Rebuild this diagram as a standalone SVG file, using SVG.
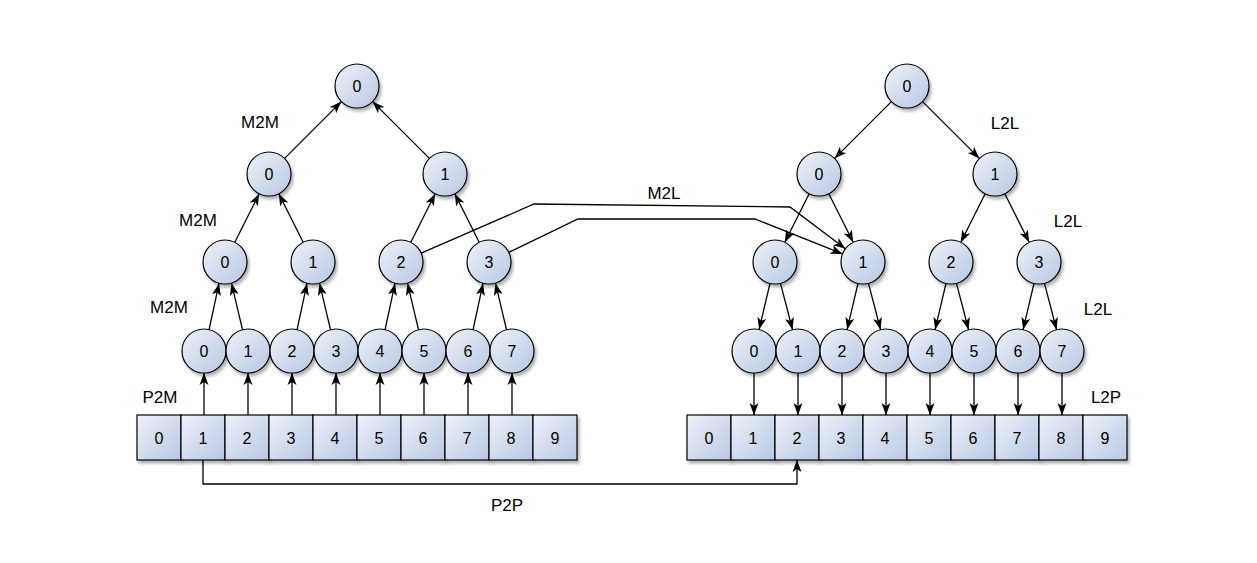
<svg xmlns="http://www.w3.org/2000/svg" width="1257" height="563" viewBox="0 0 1257 563">
  <defs>
    <linearGradient id="fillGrad" x1="0" y1="0" x2="1" y2="1">
      <stop offset="0" stop-color="#eef2f9"/>
      <stop offset="1" stop-color="#b6c8e2"/>
    </linearGradient>
    <filter id="shadow" x="-30%" y="-30%" width="160%" height="160%">
      <feDropShadow dx="2" dy="3" stdDeviation="1.5" flood-color="#000" flood-opacity="0.3"/>
    </filter>
    <marker id="arrow" viewBox="0 0 12 10" refX="12" refY="5" markerWidth="12" markerHeight="10" markerUnits="userSpaceOnUse" orient="auto">
      <path d="M0,0.5 L12,5 L0,9.5 L3,5 z" fill="#000"/>
    </marker>
    <style>
      .node circle, .node rect { fill: url(#fillGrad); stroke: #000; stroke-width: 1.2; filter: url(#shadow); }
      .node text, .label { font-family: "Liberation Sans", Arial, Helvetica, sans-serif; fill: #000; text-anchor: middle; dominant-baseline: central; }
      .node text { font-size: 16px; }
      .label { font-size: 17px; }
      .edge { fill: none; stroke: #000; stroke-width: 1.3; marker-end: url(#arrow); }
    </style>
  </defs>

  <rect x="0" y="0" width="1257" height="563" fill="#fff"/>

  <!-- connectors -->
  <g id="connectors">
    <!-- M2M: level 1 to root -->
    <line class="edge" x1="284.6" y1="158.4" x2="341.4" y2="101.6"/>
    <line class="edge" x1="429.4" y1="158.4" x2="372.6" y2="101.6"/>
    <!-- M2M: level 2 to level 1 -->
    <line class="edge" x1="234.8" y1="242.3" x2="259.2" y2="193.7"/>
    <line class="edge" x1="303.2" y1="242.3" x2="278.8" y2="193.7"/>
    <line class="edge" x1="410.8" y1="242.3" x2="435.2" y2="193.7"/>
    <line class="edge" x1="479.2" y1="242.3" x2="454.8" y2="193.7"/>
    <!-- M2M: leaves to level 2 -->
    <line class="edge" x1="209.1" y1="329.6" x2="219" y2="283.4"/>
    <line class="edge" x1="242.5" y1="329.7" x2="231.5" y2="283.3"/>
    <line class="edge" x1="297.1" y1="329.6" x2="307" y2="283.4"/>
    <line class="edge" x1="330.5" y1="329.7" x2="319.5" y2="283.3"/>
    <line class="edge" x1="385.1" y1="329.6" x2="395" y2="283.4"/>
    <line class="edge" x1="418.5" y1="329.7" x2="407.5" y2="283.3"/>
    <line class="edge" x1="473.1" y1="329.6" x2="483" y2="283.4"/>
    <line class="edge" x1="506.5" y1="329.7" x2="495.5" y2="283.3"/>
    <!-- P2M -->
    <line class="edge" x1="204" y1="415" x2="204" y2="373"/>
    <line class="edge" x1="248" y1="415" x2="248" y2="373"/>
    <line class="edge" x1="292" y1="415" x2="292" y2="373"/>
    <line class="edge" x1="336" y1="415" x2="336" y2="373"/>
    <line class="edge" x1="380" y1="415" x2="380" y2="373"/>
    <line class="edge" x1="424" y1="415" x2="424" y2="373"/>
    <line class="edge" x1="468" y1="415" x2="468" y2="373"/>
    <line class="edge" x1="512" y1="415" x2="512" y2="373"/>

    <!-- L2L: root to level 1 -->
    <line class="edge" x1="891.4" y1="101.6" x2="834.6" y2="158.4"/>
    <line class="edge" x1="922.6" y1="101.6" x2="979.4" y2="158.4"/>
    <!-- L2L: level 1 to level 2 -->
    <line class="edge" x1="809.2" y1="193.7" x2="784.8" y2="242.3"/>
    <line class="edge" x1="828.8" y1="193.7" x2="853.2" y2="242.3"/>
    <line class="edge" x1="985.2" y1="193.7" x2="960.8" y2="242.3"/>
    <line class="edge" x1="1004.8" y1="193.7" x2="1029.2" y2="242.3"/>
    <!-- L2L: level 2 to leaves -->
    <line class="edge" x1="770" y1="283.4" x2="759.1" y2="329.6"/>
    <line class="edge" x1="780.5" y1="283.3" x2="792.5" y2="329.7"/>
    <line class="edge" x1="858" y1="283.4" x2="847.1" y2="329.6"/>
    <line class="edge" x1="868.5" y1="283.3" x2="880.5" y2="329.7"/>
    <line class="edge" x1="946" y1="283.4" x2="935.1" y2="329.6"/>
    <line class="edge" x1="956.5" y1="283.3" x2="968.5" y2="329.7"/>
    <line class="edge" x1="1034" y1="283.4" x2="1023.1" y2="329.6"/>
    <line class="edge" x1="1044.5" y1="283.3" x2="1056.5" y2="329.7"/>
    <!-- L2P -->
    <line class="edge" x1="754" y1="373" x2="754" y2="415"/>
    <line class="edge" x1="798" y1="373" x2="798" y2="415"/>
    <line class="edge" x1="842" y1="373" x2="842" y2="415"/>
    <line class="edge" x1="886" y1="373" x2="886" y2="415"/>
    <line class="edge" x1="930" y1="373" x2="930" y2="415"/>
    <line class="edge" x1="974" y1="373" x2="974" y2="415"/>
    <line class="edge" x1="1018" y1="373" x2="1018" y2="415"/>
    <line class="edge" x1="1062" y1="373" x2="1062" y2="415"/>

    <!-- M2L -->
    <polyline class="edge" points="421.2,253.2 534,204 790,207 845.4,248.8"/>
    <polyline class="edge" points="508.8,252.4 578,219 755,219 842.6,253.9"/>

    <!-- P2P -->
    <polyline class="edge" points="203,460 203,484 797,484 797,460"/>
  </g>

  <!-- multipole tree -->
  <g id="m-root" class="node"><circle cx="357" cy="86" r="22"/><text x="357" y="86">0</text></g>
  <g id="m-l1-0" class="node"><circle cx="269" cy="174" r="22"/><text x="269" y="174">0</text></g>
  <g id="m-l1-1" class="node"><circle cx="445" cy="174" r="22"/><text x="445" y="174">1</text></g>
  <g id="m-l2-0" class="node"><circle cx="225" cy="262" r="22"/><text x="225" y="262">0</text></g>
  <g id="m-l2-1" class="node"><circle cx="313" cy="262" r="22"/><text x="313" y="262">1</text></g>
  <g id="m-l2-2" class="node"><circle cx="401" cy="262" r="22"/><text x="401" y="262">2</text></g>
  <g id="m-l2-3" class="node"><circle cx="489" cy="262" r="22"/><text x="489" y="262">3</text></g>
  <g id="m-l3-0" class="node"><circle cx="204" cy="351" r="22"/><text x="204" y="351">0</text></g>
  <g id="m-l3-1" class="node"><circle cx="248" cy="351" r="22"/><text x="248" y="351">1</text></g>
  <g id="m-l3-2" class="node"><circle cx="292" cy="351" r="22"/><text x="292" y="351">2</text></g>
  <g id="m-l3-3" class="node"><circle cx="336" cy="351" r="22"/><text x="336" y="351">3</text></g>
  <g id="m-l3-4" class="node"><circle cx="380" cy="351" r="22"/><text x="380" y="351">4</text></g>
  <g id="m-l3-5" class="node"><circle cx="424" cy="351" r="22"/><text x="424" y="351">5</text></g>
  <g id="m-l3-6" class="node"><circle cx="468" cy="351" r="22"/><text x="468" y="351">6</text></g>
  <g id="m-l3-7" class="node"><circle cx="512" cy="351" r="22"/><text x="512" y="351">7</text></g>

  <!-- source particles -->
  <g id="p-src-0" class="node"><rect x="137" y="415" width="44" height="45"/><text x="159" y="438">0</text></g>
  <g id="p-src-1" class="node"><rect x="181" y="415" width="44" height="45"/><text x="203" y="438">1</text></g>
  <g id="p-src-2" class="node"><rect x="225" y="415" width="44" height="45"/><text x="247" y="438">2</text></g>
  <g id="p-src-3" class="node"><rect x="269" y="415" width="44" height="45"/><text x="291" y="438">3</text></g>
  <g id="p-src-4" class="node"><rect x="313" y="415" width="44" height="45"/><text x="335" y="438">4</text></g>
  <g id="p-src-5" class="node"><rect x="357" y="415" width="44" height="45"/><text x="379" y="438">5</text></g>
  <g id="p-src-6" class="node"><rect x="401" y="415" width="44" height="45"/><text x="423" y="438">6</text></g>
  <g id="p-src-7" class="node"><rect x="445" y="415" width="44" height="45"/><text x="467" y="438">7</text></g>
  <g id="p-src-8" class="node"><rect x="489" y="415" width="44" height="45"/><text x="511" y="438">8</text></g>
  <g id="p-src-9" class="node"><rect x="533" y="415" width="44" height="45"/><text x="555" y="438">9</text></g>

  <!-- local tree -->
  <g id="l-root" class="node"><circle cx="907" cy="86" r="22"/><text x="907" y="86">0</text></g>
  <g id="l-l1-0" class="node"><circle cx="819" cy="174" r="22"/><text x="819" y="174">0</text></g>
  <g id="l-l1-1" class="node"><circle cx="995" cy="174" r="22"/><text x="995" y="174">1</text></g>
  <g id="l-l2-0" class="node"><circle cx="775" cy="262" r="22"/><text x="775" y="262">0</text></g>
  <g id="l-l2-1" class="node"><circle cx="863" cy="262" r="22"/><text x="863" y="262">1</text></g>
  <g id="l-l2-2" class="node"><circle cx="951" cy="262" r="22"/><text x="951" y="262">2</text></g>
  <g id="l-l2-3" class="node"><circle cx="1039" cy="262" r="22"/><text x="1039" y="262">3</text></g>
  <g id="l-l3-0" class="node"><circle cx="754" cy="351" r="22"/><text x="754" y="351">0</text></g>
  <g id="l-l3-1" class="node"><circle cx="798" cy="351" r="22"/><text x="798" y="351">1</text></g>
  <g id="l-l3-2" class="node"><circle cx="842" cy="351" r="22"/><text x="842" y="351">2</text></g>
  <g id="l-l3-3" class="node"><circle cx="886" cy="351" r="22"/><text x="886" y="351">3</text></g>
  <g id="l-l3-4" class="node"><circle cx="930" cy="351" r="22"/><text x="930" y="351">4</text></g>
  <g id="l-l3-5" class="node"><circle cx="974" cy="351" r="22"/><text x="974" y="351">5</text></g>
  <g id="l-l3-6" class="node"><circle cx="1018" cy="351" r="22"/><text x="1018" y="351">6</text></g>
  <g id="l-l3-7" class="node"><circle cx="1062" cy="351" r="22"/><text x="1062" y="351">7</text></g>

  <!-- target particles -->
  <g id="p-dst-0" class="node"><rect x="687" y="415" width="44" height="45"/><text x="709" y="438">0</text></g>
  <g id="p-dst-1" class="node"><rect x="731" y="415" width="44" height="45"/><text x="753" y="438">1</text></g>
  <g id="p-dst-2" class="node"><rect x="775" y="415" width="44" height="45"/><text x="797" y="438">2</text></g>
  <g id="p-dst-3" class="node"><rect x="819" y="415" width="44" height="45"/><text x="841" y="438">3</text></g>
  <g id="p-dst-4" class="node"><rect x="863" y="415" width="44" height="45"/><text x="885" y="438">4</text></g>
  <g id="p-dst-5" class="node"><rect x="907" y="415" width="44" height="45"/><text x="929" y="438">5</text></g>
  <g id="p-dst-6" class="node"><rect x="951" y="415" width="44" height="45"/><text x="973" y="438">6</text></g>
  <g id="p-dst-7" class="node"><rect x="995" y="415" width="44" height="45"/><text x="1017" y="438">7</text></g>
  <g id="p-dst-8" class="node"><rect x="1039" y="415" width="44" height="45"/><text x="1061" y="438">8</text></g>
  <g id="p-dst-9" class="node"><rect x="1083" y="415" width="44" height="45"/><text x="1105" y="438">9</text></g>

  <!-- operator labels -->
  <g id="labels">
    <text class="label" x="260" y="122">M2M</text>
    <text class="label" x="198" y="220">M2M</text>
    <text class="label" x="169" y="307">M2M</text>
    <text class="label" x="160" y="397">P2M</text>
    <text class="label" x="664" y="193">M2L</text>
    <text class="label" x="507" y="505">P2P</text>
    <text class="label" x="1005" y="123">L2L</text>
    <text class="label" x="1068" y="221">L2L</text>
    <text class="label" x="1098" y="309">L2L</text>
    <text class="label" x="1106" y="397">L2P</text>
  </g>
</svg>
